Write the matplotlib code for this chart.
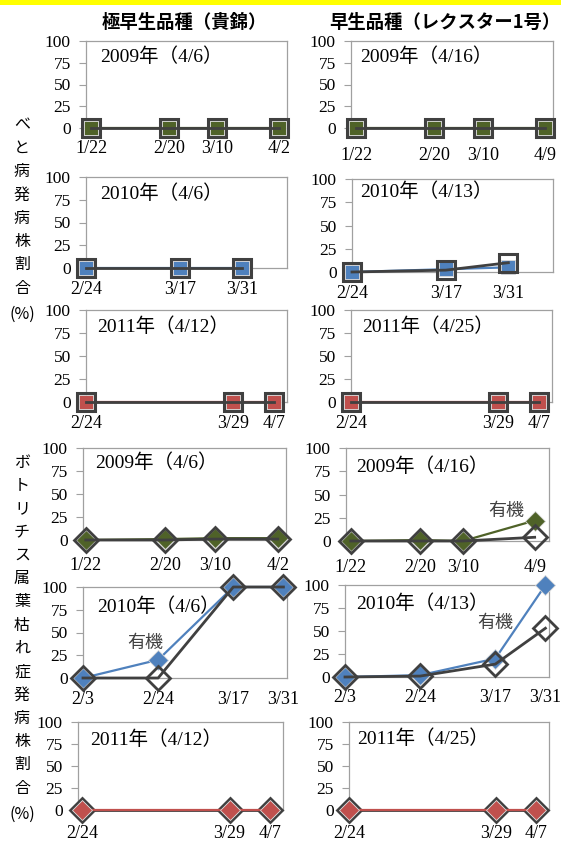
import matplotlib
matplotlib.use("Agg")
import matplotlib.pyplot as plt
from matplotlib.patches import Rectangle

W, H = 561, 843
plt.rcParams["font.family"] = ["Liberation Serif", "Noto Sans CJK JP"]

# ---------------- data: sampling day (day of year) and incidence (%) ----------------
# downy mildew (べと病)
dm09_days = [22, 51, 69, 92]
dm09_early_labels = ["1/22", "2/20", "3/10", "4/2"]
dm09_late_labels = ["1/22", "2/20", "3/10", "4/9"]
dm09_early_org = [0, 0, 0, 0]
dm09_early_conv = [0, 0, 0, 0]
dm09_late_org = [0, 0, 0, 0]
dm09_late_conv = [0, 0, 0, 0]

dm10_days = [55, 76, 90]
dm10_labels = ["2/24", "3/17", "3/31"]
dm10_early_org = [0, 0, 0]
dm10_early_conv = [0, 0, 0]
dm10_late_org = [0, 3, 5]
dm10_late_conv = [0, 2, 10]

dm11_days = [55, 88, 97]
dm11_labels = ["2/24", "3/29", "4/7"]
dm11_early_org = [0, 0, 0]
dm11_early_conv = [0, 0, 0]
dm11_late_org = [0, 0, 0]
dm11_late_conv = [0, 0, 0]

# Botrytis leaf blight (ボトリチス属葉枯れ症)
bt09_early_days = [22, 51, 69, 92]
bt09_late_days = [22, 51, 69, 99]
bt09_early_labels = ["1/22", "2/20", "3/10", "4/2"]
bt09_late_labels = ["1/22", "2/20", "3/10", "4/9"]
bt09_early_org = [0, 1, 2, 2]
bt09_early_conv = [0, 0, 1, 1]
bt09_late_org = [0, 1, 0, 22]
bt09_late_conv = [0, 0, 0, 4]

bt10_days = [34, 55, 76, 90]
bt10_labels = ["2/3", "2/24", "3/17", "3/31"]
bt10_early_org = [0, 20, 100, 100]
bt10_early_conv = [0, 0, 100, 100]
bt10_late_org = [0, 2, 20, 100]
bt10_late_conv = [0, 1, 14, 53]

bt11_days = [55, 88, 97]
bt11_labels = ["2/24", "3/29", "4/7"]
bt11_early_org = [0, 0, 0]
bt11_early_conv = [0, 0, 0]
bt11_late_org = [0, 0, 0]
bt11_late_conv = [0, 0, 0]

year_titles_early = ["2009年（4/6）", "2010年（4/6）", "2011年（4/12）"]
year_titles_late = ["2009年（4/16）", "2010年（4/13）", "2011年（4/25）"]
column_titles = ["極早生品種（貴錦）", "早生品種（レクスター1号）"]
organic_label = "有機"
ylabel_dm = "べと病発病株割合"
ylabel_bt = "ボトリチス属葉枯れ症発病株割合"
ylabel_unit = "(%)"

# ---------------- styling ----------------
C_2009 = "#4F6228"
C_2010 = "#4F81BD"
C_2011 = "#C0504D"
C_DARK = "#404040"
C_SPINE = "#A0A0A0"
YTICK_FS = 12.5
XTICK_FS = 13
TITLE_FS = 14

fig = plt.figure(figsize=(W / 100, H / 100), dpi=100)
fig.patches.append(Rectangle((0, 1 - 5 / H), 1, 5 / H, transform=fig.transFigure,
                             facecolor="#FFFF00", edgecolor="none", zorder=0))


def panel(box, xlim, days, labels, org, conv, color, marker, title, tpos,
          xpad, organic_front=False, note=None):
    x0, x1, y0, y1 = box
    ax = fig.add_axes([x0 / W, 1 - y1 / H, (x1 - x0) / W, (y1 - y0) / H])
    ax.set_xlim(*xlim)
    ax.set_ylim(0, 100)
    for s in ax.spines.values():
        s.set_color(C_SPINE)
        s.set_linewidth(0.9)
    ax.set_yticks([0, 25, 50, 75, 100])
    ax.set_xticks(days)
    ax.set_xticklabels(labels)
    ax.tick_params(axis="y", length=5, width=0.8, color=C_SPINE, pad=6,
                   labelsize=YTICK_FS)
    ax.tick_params(axis="x", length=0, pad=xpad, labelsize=XTICK_FS)

    if marker == "s":
        ms_fill, ms_open, mew_open = 10.0, 12.8, 2.2
    else:
        ms_fill, ms_open, mew_open = 10.2, 11.8, 2.0

    z_org, z_conv = (4, 3) if organic_front else (3, 4)
    ax.plot(days, org, color=color, lw=1.6, marker=marker, ms=ms_fill,
            mfc=color, mec="#d8d8d8", mew=0.6, clip_on=False, zorder=z_org)
    ax.plot(days, conv, color=C_DARK, lw=2.0, marker=marker, ms=ms_open,
            mfc="none", mec=C_DARK, mew=mew_open, clip_on=False, zorder=z_conv)

    ax.text(tpos[0], tpos[1], title, transform=ax.transAxes, fontsize=TITLE_FS,
            ha="left", va="center", family=["Liberation Serif", "Noto Sans CJK JP"])
    if note is not None:
        ax.text(note[0], note[1], organic_label, fontsize=13, color=C_DARK,
                ha="center", va="center", family=["Noto Sans CJK JP"])
    return ax


# downy mildew rows
panel((86, 287, 41, 128), (20, 95), dm09_days, dm09_early_labels, dm09_early_org,
      dm09_early_conv, C_2009, "s", year_titles_early[0], (0.07, 0.82), 8.5)
panel((351, 553, 41, 128), (20, 95), dm09_days, dm09_late_labels, dm09_late_org,
      dm09_late_conv, C_2009, "s", year_titles_late[0], (0.045, 0.82), 14)
panel((86, 287, 177, 268), (55, 100), dm10_days, dm10_labels, dm10_early_org,
      dm10_early_conv, C_2010, "s", year_titles_early[1], (0.07, 0.82), 9)
panel((352, 553, 179, 272), (55, 100), dm10_days, dm10_labels, dm10_late_org,
      dm10_late_conv, C_2010, "s", year_titles_late[1], (0.04, 0.86), 9)
panel((86, 287, 310, 402), (55, 100), dm11_days, dm11_labels, dm11_early_org,
      dm11_early_conv, C_2011, "s", year_titles_early[2], (0.055, 0.82), 9)
panel((351, 552, 310, 402), (55, 100), dm11_days, dm11_labels, dm11_late_org,
      dm11_late_conv, C_2011, "s", year_titles_late[2], (0.055, 0.82), 9)

# Botrytis rows
panel((83, 286, 448, 540), (21, 95), bt09_early_days, bt09_early_labels, bt09_early_org,
      bt09_early_conv, C_2009, "D", year_titles_early[0], (0.06, 0.84), 12)
panel((346, 549, 448, 541), (20, 105), bt09_late_days, bt09_late_labels, bt09_late_org,
      bt09_late_conv, C_2009, "D", year_titles_late[0], (0.05, 0.80), 13,
      note=(87, 32))
panel((83, 287, 587, 678), (34, 91), bt10_days, bt10_labels, bt10_early_org,
      bt10_early_conv, C_2010, "D", year_titles_early[1], (0.07, 0.78), 9,
      note=(51.3, 38))
panel((345, 549, 585, 677), (34, 91), bt10_days, bt10_labels, bt10_late_org,
      bt10_late_conv, C_2010, "D", year_titles_late[1], (0.054, 0.80), 9,
      note=(75.9, 59))
panel((78, 283, 722, 810), (54, 100), bt11_days, bt11_labels, bt11_early_org,
      bt11_early_conv, C_2011, "D", year_titles_early[2], (0.06, 0.80), 10.5,
      organic_front=True)
panel((349, 549, 722, 810), (55, 100), bt11_days, bt11_labels, bt11_late_org,
      bt11_late_conv, C_2011, "D", year_titles_late[2], (0.04, 0.81), 10.5,
      organic_front=True)

# column headings
for cx, txt in zip((184, 445), column_titles):
    fig.text(cx / W, 1 - 22 / H, txt, ha="center", va="center", fontsize=13.2,
             fontweight="bold", family=["Noto Sans CJK JP"])


# vertical y-axis captions, one character per line
def vertical_caption(chars, y_start, step=23.3, x=22):
    for i, ch in enumerate(chars):
        fig.text(x / W, 1 - (y_start + i * step) / H, ch, ha="center", va="center",
                 fontsize=11.5, family=["Noto Sans CJK JP"])
    fig.text(x / W, 1 - (y_start + len(chars) * step + 3) / H, ylabel_unit,
             ha="center", va="center", fontsize=11.5, family=["Noto Sans CJK JP"])


vertical_caption(list(ylabel_dm), 125)
vertical_caption(list(ylabel_bt), 462)

fig.savefig("out.png", dpi=100, facecolor="white")
